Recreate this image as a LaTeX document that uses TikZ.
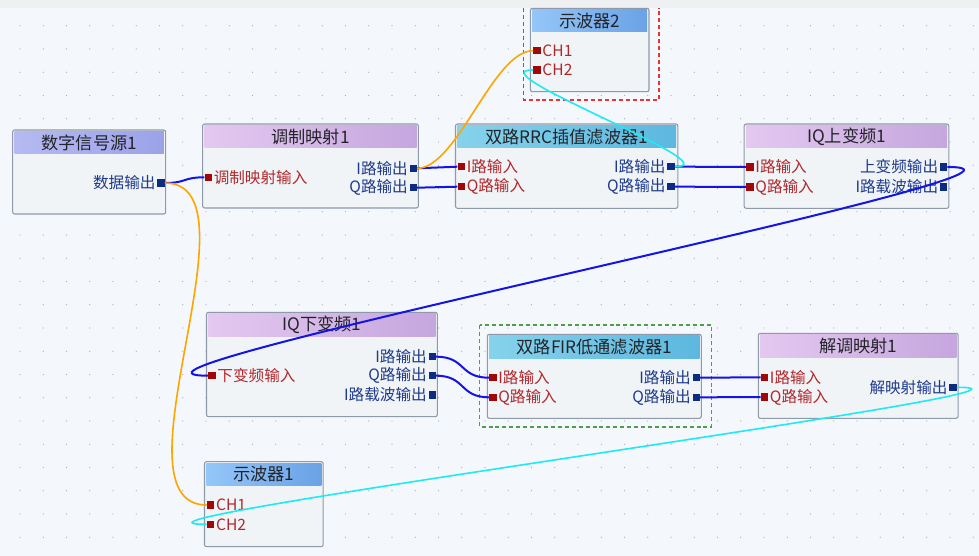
\documentclass[tikz,border=0pt]{standalone}
\usepackage{fontspec}
\setmainfont{Noto Sans CJK SC}
\usetikzlibrary{fit}
\definecolor{bgc}{HTML}{F4F7FC}
\definecolor{topc}{HTML}{EFF0F2}
\definecolor{dotc}{HTML}{A8ACB4}
\definecolor{bodyc}{HTML}{F0F4F7}
\definecolor{borderc}{HTML}{8E9AA8}
\definecolor{titlec}{HTML}{222428}
\definecolor{srcL}{HTML}{B6BAF2}
\definecolor{srcR}{HTML}{9BA2E8}
\definecolor{purL}{HTML}{E4C8F0}
\definecolor{purR}{HTML}{C6A6DE}
\definecolor{cyaL}{HTML}{86D2EC}
\definecolor{cyaR}{HTML}{5DB7DF}
\definecolor{bluL}{HTML}{94C6F8}
\definecolor{bluR}{HTML}{6AA2E6}
\definecolor{inportc}{HTML}{A00808}
\definecolor{outportc}{HTML}{0B2C80}
\definecolor{inlabc}{HTML}{B0282C}
\definecolor{outlabc}{HTML}{1F3A8C}
\definecolor{wireb}{HTML}{1414E6}
\definecolor{wireo}{HTML}{FFA500}
\definecolor{wirec}{HTML}{1EEAF2}
\definecolor{redd}{HTML}{E83434}
\definecolor{grnd}{HTML}{4E9E4E}
\newcommand\mkblock[8]{%
  \node[body, fit={(#2,#3) (#4,#5)}] (#1) {};
  \node[#7, fit={({#2+1.8},{#3+1.5}) ({#4-1.8},#6)}] (#1h) {};
  \node[ttl] (#1t) at (#1h.center) {#8};
}
\newcommand\inp[4]{%
  \node[inport] (#1) at (#2,#3) {};
  \node[inlab] (#1l) at (#1.east) {#4};
}
\newcommand\outp[4]{%
  \node[outport] (#1) at (#2,#3) {};
  \node[outlab] (#1l) at (#1.west) {#4};
}
\begin{document}
\begin{tikzpicture}[x=0.75pt,y=-0.75pt,
  body/.style={draw=borderc, fill=bodyc, rounded corners=1.5pt, inner sep=0pt, line width=0.8pt},
  hsrc/.style={left color=srcL, right color=srcR, inner sep=0pt},
  hpur/.style={left color=purL, right color=purR, inner sep=0pt},
  hcya/.style={left color=cyaL, right color=cyaR, inner sep=0pt},
  hblu/.style={left color=bluL, right color=bluR, inner sep=0pt},
  ttl/.style={text=titlec, inner sep=0pt, font=\fontsize{12.9}{14}\selectfont},
  inport/.style={fill=inportc, minimum size=5.4pt, inner sep=0pt},
  outport/.style={fill=outportc, minimum size=5.4pt, inner sep=0pt},
  inlab/.style={text=inlabc, anchor=west, inner sep=1pt, font=\fontsize{11.7}{13}\selectfont},
  outlab/.style={text=outlabc, anchor=east, inner sep=1pt, font=\fontsize{11.7}{13}\selectfont},
  wb/.style={draw=wireb, line width=1.5pt},
  wo/.style={draw=wireo, line width=1.2pt},
  wc/.style={draw=wirec, line width=1.2pt},
  grp/.style={dashed, dash pattern=on 3pt off 2.2pt, line width=0.8pt}
]
\useasboundingbox (0,0) rectangle (979,556);
\fill[bgc] (0,0) rectangle (979,556);
\foreach \i in {0,...,41} {\foreach \j in {0,...,22} {\fill[dotc] ({20+\i*23.25},{25.7+\j*23.25}) circle (0.65);}}
\fill[topc] (0,0) rectangle (979,8);

% group frames
\draw[grp, draw=redd] (523.5,8) -- (523.5,100) -- (659,100) -- (659,8);
\draw[grp, draw=grnd] (479.6,325) rectangle (711.5,427);

% blocks
\mkblock{src}{12.7}{130}{165.7}{214}{153.7}{hsrc}{数字信号源1}
\outp{srcO}{161}{183}{数据输出}

\mkblock{mod}{202.7}{124}{418.3}{208}{148}{hpur}{调制映射1}
\inp{modI}{208.3}{177.3}{调制映射输入}
\outp{modOI}{413.3}{168.3}{I路输出}
\outp{modOQ}{413.3}{187.7}{Q路输出}

\mkblock{rrc}{455.5}{124}{677.9}{208.3}{147.7}{hcya}{双路RRC插值滤波器1}
\inp{rrcII}{461.3}{166.7}{I路输入}
\inp{rrcIQ}{461.3}{186.7}{Q路输入}
\outp{rrcOI}{671}{166.7}{I路输出}
\outp{rrcOQ}{671}{186.7}{Q路输出}

\mkblock{up}{744.2}{124}{948.8}{208.3}{147.7}{hpur}{IQ上变频1}
\inp{upII}{750}{167}{I路输入}
\inp{upIQ}{750}{187}{Q路输入}
\outp{upO}{943.6}{167}{上变频输出}
\outp{upC}{943.6}{187}{I路载波输出}

\mkblock{sctwo}{530.4}{8.3}{649}{91.7}{31.7}{hblu}{示波器2}
\inp{sctwoA}{537}{50.7}{CH1}
\inp{sctwoB}{537}{70}{CH2}

\mkblock{dn}{206.5}{312.3}{437.3}{416.7}{336.7}{hpur}{IQ下变频1}
\inp{dnI}{212}{375.7}{下变频输入}
\outp{dnOI}{432.2}{356.7}{I路输出}
\outp{dnOQ}{432.2}{375.7}{Q路输出}
\outp{dnC}{432.2}{395}{I路载波输出}

\mkblock{fir}{487.3}{334.3}{701.3}{418.3}{358.3}{hcya}{双路FIR低通滤波器1}
\inp{firII}{492.9}{377.7}{I路输入}
\inp{firIQ}{492.9}{397.3}{Q路输入}
\outp{firOI}{696.2}{377.7}{I路输出}
\outp{firOQ}{696.2}{397.3}{Q路输出}

\mkblock{dem}{758.3}{333.3}{958.1}{418.3}{357.7}{hpur}{解调映射1}
\inp{demII}{764.5}{377.3}{I路输入}
\inp{demIQ}{764.5}{397}{Q路输入}
\outp{demO}{953}{387.3}{解映射输出}

\mkblock{scone}{204.5}{461.7}{323.2}{546.7}{485.7}{hblu}{示波器1}
\inp{sconeA}{210.6}{505}{CH1}
\inp{sconeB}{210.6}{524.3}{CH2}

% wires
\draw[wb] (srcO.east) .. controls +(22,0) and +(-22,0) .. (modI.west);
\draw[wo] (srcO.east) .. controls +(100,0) and +(-100,0) .. (sconeA.west);
\draw[wb] (modOI.east) .. controls +(20,0) and +(-20,0) .. (rrcII.west);
\draw[wo] (modOI.east) .. controls +(40,0) and +(-40,0) .. (sctwoA.west);
\draw[wb] (modOQ.east) .. controls +(20,0) and +(-20,0) .. (rrcIQ.west);
\draw[wb] (rrcOI.east) .. controls +(30,0) and +(-30,0) .. (upII.west);
\draw[wc] (rrcOI.east) .. controls +(60,0) and +(-60,0) .. (sctwoB.west);
\draw[wb] (rrcOQ.east) .. controls +(30,0) and +(-30,0) .. (upIQ.west);
\draw[wb] (upO.east) .. controls +(160,0) and +(-160,0) .. (dnI.west);
\draw[wb] (dnOI.east) .. controls +(30,0) and +(-30,0) .. (firII.west);
\draw[wb] (dnOQ.east) .. controls +(30,0) and +(-30,0) .. (firIQ.west);
\draw[wb] (firOI.east) .. controls +(25,0) and +(-25,0) .. (demII.west);
\draw[wb] (firOQ.east) .. controls +(25,0) and +(-25,0) .. (demIQ.west);
\draw[wc] (demO.east) .. controls +(150,0) and +(-150,0) .. (sconeB.west);
\end{tikzpicture}
\end{document}
